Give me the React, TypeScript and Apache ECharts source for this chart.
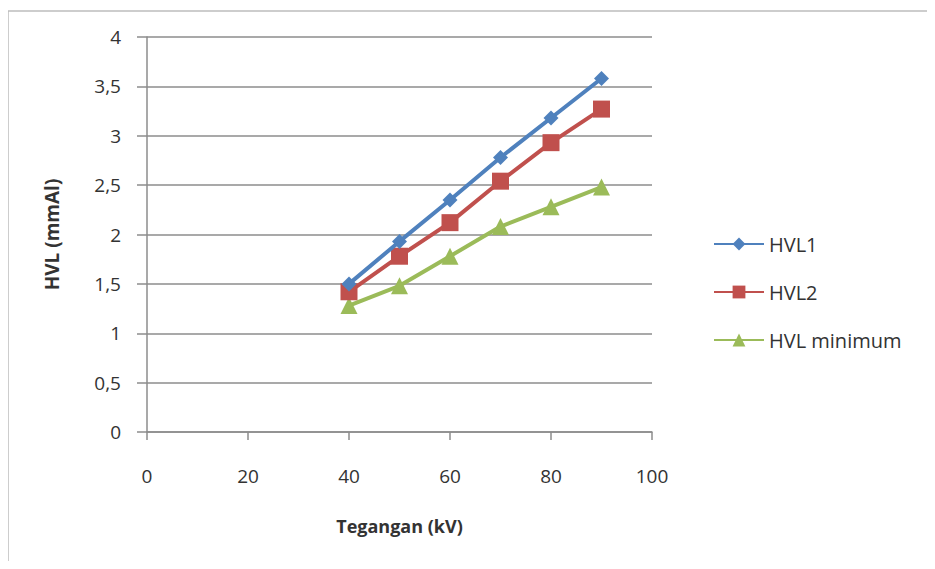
import React, { useEffect, useRef } from "react";
import * as echarts from "echarts";

// Tube voltage (kV)
const voltages = [40, 50, 60, 70, 80, 90];
// Measured half-value layers (mm Al)
const hvl1 = [1.5, 1.93, 2.35, 2.78, 3.18, 3.58];
const hvl2 = [1.42, 1.78, 2.12, 2.54, 2.93, 3.27];
const hvlMin = [1.28, 1.48, 1.78, 2.08, 2.28, 2.48];

const seriesNames = ["HVL1", "HVL2", "HVL minimum"];
const seriesColors = ["#4F81BD", "#C0504D", "#9BBB59"];
const seriesSymbols = ["diamond", "rect", "triangle"];
const seriesSizes = [15, 17, 17];

const FONT = "'Open Sans', Lato, sans-serif";

export default function App() {
  const ref = useRef<HTMLDivElement>(null);

  useEffect(() => {
    if (!ref.current) return;
    const chart = echarts.init(ref.current, undefined, { renderer: "svg" });
    const values = [hvl1, hvl2, hvlMin];
    chart.setOption({
      animation: false,
      backgroundColor: "#ffffff",
      textStyle: { fontFamily: FONT },
      graphic: [
        {
          type: "rect",
          shape: { x: 0, y: 3, width: 940, height: 580 },
          style: { fill: "none", stroke: "#bdbdbd", lineWidth: 1.5 },
          silent: true,
        },
      ],
      grid: { left: 139, right: 275, top: 29, bottom: 129 },
      legend: {
        orient: "vertical",
        left: 700,
        top: 221,
        itemGap: 28,
        itemWidth: 50,
        itemHeight: 16,
        textStyle: { fontFamily: FONT, fontSize: 20, color: "#333" },
        data: seriesNames,
      },
      xAxis: {
        type: "value",
        min: 0,
        max: 100,
        interval: 20,
        name: "Tegangan (kV)",
        nameLocation: "middle",
        nameGap: 85,
        nameTextStyle: { fontFamily: FONT, fontSize: 18, fontWeight: "bold", color: "#333" },
        axisLine: { show: true, lineStyle: { color: "#8c8c8c", width: 1.5 } },
        axisTick: { show: true, length: 8, inside: false, lineStyle: { color: "#8c8c8c", width: 1.5 } },
        axisLabel: { fontFamily: FONT, fontSize: 19, color: "#333", margin: 34 },
        splitLine: { show: false },
      },
      yAxis: {
        type: "value",
        min: 0,
        max: 4,
        interval: 0.5,
        name: "HVL (mmAl)",
        nameLocation: "middle",
        nameGap: 86,
        nameRotate: 90,
        nameTextStyle: { fontFamily: FONT, fontSize: 19, fontWeight: "bold", color: "#333" },
        axisLine: { show: true, lineStyle: { color: "#8c8c8c", width: 1.5 } },
        axisTick: { show: true, length: 10, lineStyle: { color: "#8c8c8c", width: 1.5 } },
        axisLabel: {
          fontFamily: FONT,
          fontSize: 19,
          color: "#333",
          margin: 26,
          formatter: (v: number) => String(v).replace(".", ","),
        },
        splitLine: { show: true, lineStyle: { color: "#8c8c8c", width: 1.5 } },
      },
      series: seriesNames.map((name, i) => ({
        name,
        type: "line",
        data: voltages.map((x, j) => [x, values[i][j]]),
        symbol: seriesSymbols[i],
        symbolSize: seriesSizes[i],
        lineStyle: { color: seriesColors[i], width: 4 },
        itemStyle: { color: seriesColors[i] },
        z: 3 - i,
      })),
    });
    return () => chart.dispose();
  }, []);

  return <div ref={ref} style={{ width: 919, height: 553 }} />;
}
